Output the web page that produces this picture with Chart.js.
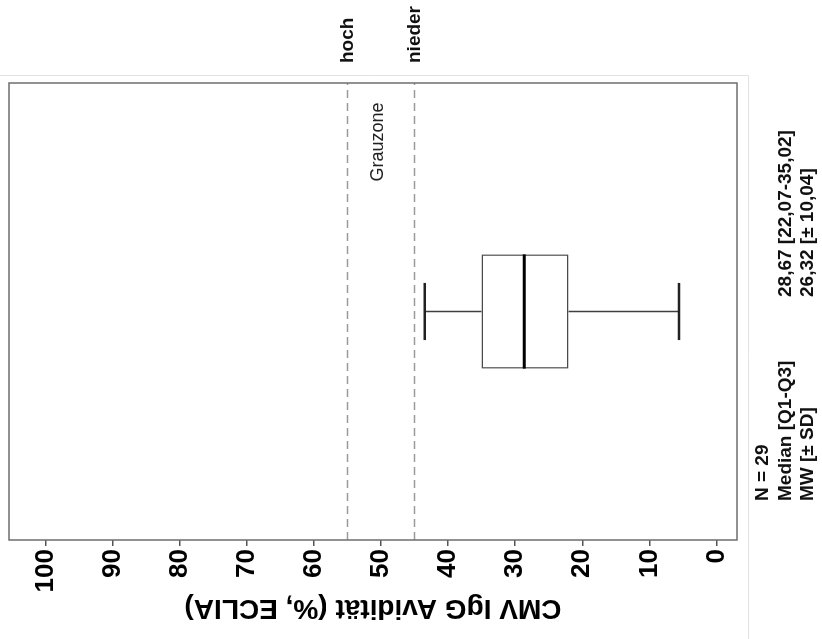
<!DOCTYPE html>
<html>
<head>
<meta charset="utf-8">
<script src="https://cdn.jsdelivr.net/npm/chart.js@4.4.1/dist/chart.umd.min.js"></script>
<style>
  html, body { margin: 0; padding: 0; background: #fff; overflow: hidden; }
  #wrap {
    position: absolute; left: 0; top: 0;
    width: 639px; height: 822px;
    transform-origin: 0 0;
    transform: translateY(639px) rotate(-90deg);
  }
</style>
</head>
<body>
<div id="wrap"><canvas id="avidity" width="639" height="822"></canvas></div>
<script>
// Boxplot values (% avidity, ECLIA)
const categories = ['CMV IgG'];
const whiskerLow = [5.59];
const q1 = [22.07];
const median = [28.67];
const q3 = [35.02];
const whiskerHigh = [43.49];

const yTicks = [0, 10, 20, 30, 40, 50, 60, 70, 80, 90, 100];

// threshold lines for the grey zone
const thresholdValues = [55, 45];
const thresholdLabels = ['hoch', 'nieder'];
const greyZoneLabel = 'Grauzone';
const greyZoneValue = 50;

// summary lines below the plot
const statLabels = ['N = 29', 'Median [Q1-Q3]', 'MW [± SD]'];
const statValues = ['', '28,67 [22,07-35,02]', '26,32 [± 10,04]'];

const FONT = '"Liberation Sans", Arial, sans-serif';

const boxExtras = {
    id: 'boxExtras',
    beforeDraw(chart) {
        const { ctx } = chart;
        // light panel border lines
        ctx.save();
        ctx.strokeStyle = '#e2e2e2';
        ctx.lineWidth = 1;
        ctx.beginPath();
        ctx.moveTo(563.5, 0);
        ctx.lineTo(563.5, 748.5);
        ctx.lineTo(0, 748.5);
        ctx.stroke();
        ctx.restore();
    },
    afterDatasetsDraw(chart) {
        const { ctx, chartArea: a } = chart;
        const y = chart.scales.y;

        // dashed threshold lines
        ctx.save();
        ctx.strokeStyle = '#9a9a9a';
        ctx.lineWidth = 1.5;
        ctx.setLineDash([8, 5]);
        thresholdValues.forEach(v => {
            const py = y.getPixelForValue(v);
            ctx.beginPath();
            ctx.moveTo(a.left, py);
            ctx.lineTo(a.right, py);
            ctx.stroke();
        });
        ctx.restore();

        // whiskers + median
        const meta = chart.getDatasetMeta(0);
        meta.data.forEach((bar, i) => {
            const cx = bar.x;
            const half = bar.width / 2;
            const capHalf = half / 2;
            ctx.save();
            ctx.strokeStyle = '#404040';
            ctx.lineWidth = 1.5;
            ctx.beginPath();
            ctx.moveTo(cx, y.getPixelForValue(q3[i]));
            ctx.lineTo(cx, y.getPixelForValue(whiskerHigh[i]));
            ctx.moveTo(cx, y.getPixelForValue(q1[i]));
            ctx.lineTo(cx, y.getPixelForValue(whiskerLow[i]));
            ctx.stroke();

            ctx.strokeStyle = '#222';
            ctx.lineWidth = 2.5;
            ctx.beginPath();
            [whiskerHigh[i], whiskerLow[i]].forEach(v => {
                const py = y.getPixelForValue(v);
                ctx.moveTo(cx - capHalf, py);
                ctx.lineTo(cx + capHalf, py);
            });
            ctx.stroke();

            ctx.strokeStyle = '#000';
            ctx.lineWidth = 3;
            ctx.beginPath();
            const pm = y.getPixelForValue(median[i]);
            ctx.moveTo(cx - half, pm);
            ctx.lineTo(cx + half, pm);
            ctx.stroke();
            ctx.restore();
        });

        // plot frame
        ctx.save();
        ctx.strokeStyle = '#6e6e6e';
        ctx.lineWidth = 1.5;
        ctx.strokeRect(a.left, a.top, a.right - a.left, a.bottom - a.top);
        ctx.restore();

        // labels
        ctx.save();
        ctx.fillStyle = '#111';
        ctx.textBaseline = 'middle';
        ctx.textAlign = 'left';
        ctx.font = 'bold 19px ' + FONT;
        thresholdValues.forEach((v, i) => {
            ctx.fillText(thresholdLabels[i], 576, y.getPixelForValue(v));
        });

        ctx.font = '18px ' + FONT;
        ctx.textAlign = 'center';
        ctx.fillStyle = '#222';
        ctx.fillText(greyZoneLabel, 497, y.getPixelForValue(greyZoneValue) - 3);

        ctx.font = 'bold 19px ' + FONT;
        ctx.textAlign = 'left';
        ctx.fillStyle = '#111';
        const rows = [763, 786, 808];
        statLabels.forEach((t, i) => {
            ctx.fillText(t, 138, rows[i]);
            if (statValues[i]) ctx.fillText(statValues[i], 342, rows[i]);
        });
        ctx.restore();
    }
};

new Chart(document.getElementById('avidity'), {
    type: 'bar',
    data: {
        labels: categories,
        datasets: [{
            data: q1.map((v, i) => [v, q3[i]]),
            backgroundColor: '#ffffff',
            borderColor: '#4a4a4a',
            borderWidth: 1.5,
            borderSkipped: false,
            categoryPercentage: 1,
            barPercentage: 0.25
        }]
    },
    options: {
        responsive: false,
        animation: false,
        devicePixelRatio: 1,
        layout: { padding: { top: 9, right: 83, bottom: 85, left: 0 } },
        plugins: {
            legend: { display: false },
            tooltip: { enabled: false }
        },
        scales: {
            x: { display: false },
            y: {
                min: -3.055,
                max: 105.44,
                afterFit: s => {
                    s.width = 99;
                    s.paddingTop = 0;
                    s.paddingBottom = 0;
                },
                afterBuildTicks: s => { s.ticks = yTicks.map(v => ({ value: v })); },
                border: { display: false },
                grid: {
                    drawOnChartArea: false,
                    drawTicks: true,
                    tickLength: 6,
                    tickColor: '#555',
                    lineWidth: 1.5
                },
                ticks: {
                    color: '#000',
                    padding: 3,
                    font: { family: FONT, size: 26, weight: 'bold' }
                },
                title: {
                    display: true,
                    text: 'CMV IgG Avidität (%, ECLIA)',
                    color: '#000',
                    padding: { top: 14, bottom: 0 },
                    font: { family: FONT, size: 28, weight: 'bold' }
                }
            }
        }
    },
    plugins: [boxExtras]
});
</script>
</body>
</html>
